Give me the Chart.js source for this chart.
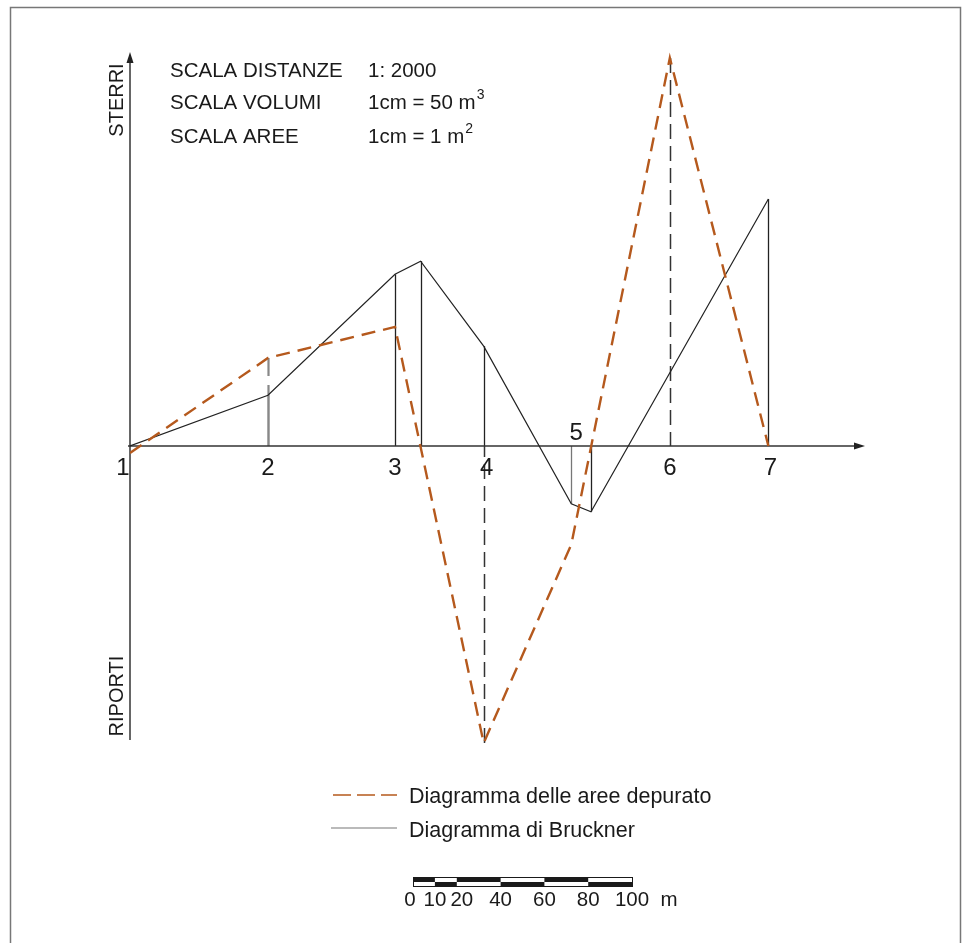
<!DOCTYPE html>
<html>
<head>
<meta charset="utf-8">
<script src="https://cdn.jsdelivr.net/npm/chart.js@4/dist/chart.umd.min.js"></script>
<style>
  html, body { margin: 0; background: #fff; }
  #wrap { width: 967px; height: 943px; position: relative; }
</style>
</head>
<body>
<div id="wrap"><canvas id="chart"></canvas></div>
<script>
// Distances in m (read against the 100 m scale bar), volumes in m3, areas in m2
const stationLabels = ['1', '2', '3', '4', '5', '6', '7'];
const stationDist = [0, 63, 121, 161.5, 201.5, 246.5, 291.5];

const areaDist = [0, 63, 121, 161.5, 201.5, 246.5, 291.5];
const areaValues = [-0.16, 2.01, 2.72, -6.78, -2.25, 8.86, 0];

const brucknerDist = [0, 63, 121, 132.7, 161.5, 201.5, 210.5, 291.5];
const brucknerValues = [0, 58, 196, 211, 114, -66, -75, 282];

// ordinates of the area diagram drawn dashed
const dashedOrdinates = [63, 161.5, 246.5];

const scaleBarTicks = [0, 10, 20, 40, 60, 80, 100];
const headerRows = [
  ['SCALA DISTANZE', '1: 2000', ''],
  ['SCALA VOLUMI', '1cm = 50 m', '3'],
  ['SCALA AREE', '1cm = 1 m', '2']
];

// drawing scales: 1:2000 -> 1 cm = 20 m, 1 cm = 50 m3, 1 cm = 1 m2
const cmPx = 43.8;
const FONT = '"Liberation Sans", Arial, Helvetica, sans-serif';
const ORANGE = '#b5591d';

const pad = { left: 130, right: 102, top: 40, bottom: 183 };
const areaW = 967 - pad.left - pad.right;
const areaH = 943 - pad.top - pad.bottom;
const zeroFromTop = 406; // zero line sits 406 px under the top of the plot area

function areaAt(d) {
  return areaValues[areaDist.indexOf(d)];
}

const drawing = {
  id: 'drawing',
  beforeDatasetsDraw(chart) {
    const ctx = chart.ctx;
    const xs = chart.scales.x, ys = chart.scales.y, ya = chart.scales.y2;
    const x0 = xs.getPixelForValue(0);
    const y0 = ys.getPixelForValue(0);
    ctx.save();

    // frame
    ctx.strokeStyle = '#777';
    ctx.lineWidth = 1.5;
    ctx.strokeRect(10.5, 7.5, 950, 1000);

    // ordinates of the Bruckner diagram
    ctx.lineWidth = 1.3;
    brucknerDist.forEach((d, i) => {
      if (i === 0) return;
      const px = Math.round(xs.getPixelForValue(d)) + 0.5;
      ctx.strokeStyle = (d === 201.5) ? '#777' : '#222';
      ctx.beginPath();
      ctx.moveTo(px, y0);
      ctx.lineTo(px, ys.getPixelForValue(brucknerValues[i]));
      ctx.stroke();
    });

    // dashed ordinates of the area diagram, drawn from the curve toward the axis
    dashedOrdinates.forEach(d => {
      const px = Math.round(xs.getPixelForValue(d)) + 0.5;
      const grey = d === 63;
      ctx.strokeStyle = grey ? '#888' : '#333';
      ctx.lineWidth = grey ? 2.2 : 1.5;
      ctx.setLineDash(grey ? [18, 9, 80, 0] : [15, 7]);
      ctx.beginPath();
      ctx.moveTo(px, ya.getPixelForValue(areaAt(d)));
      ctx.lineTo(px, y0);
      ctx.stroke();
    });
    ctx.setLineDash([]);

    // axes with arrows
    ctx.strokeStyle = '#333';
    ctx.fillStyle = '#222';
    ctx.lineWidth = 1.5;
    const xEnd = chart.chartArea.right;
    ctx.beginPath();
    ctx.moveTo(x0 - 2, y0);
    ctx.lineTo(xEnd - 8, y0);
    ctx.stroke();
    ctx.beginPath();
    ctx.moveTo(xEnd, y0);
    ctx.lineTo(xEnd - 11, y0 - 3.5);
    ctx.lineTo(xEnd - 11, y0 + 3.5);
    ctx.closePath();
    ctx.fill();

    const yTop = 52, yBot = 740;
    ctx.beginPath();
    ctx.moveTo(x0, yBot);
    ctx.lineTo(x0, yTop + 8);
    ctx.stroke();
    ctx.beginPath();
    ctx.moveTo(x0, yTop);
    ctx.lineTo(x0 - 3.5, yTop + 11);
    ctx.lineTo(x0 + 3.5, yTop + 11);
    ctx.closePath();
    ctx.fill();
    ctx.restore();
  },
  afterDatasetsDraw(chart) {
    const ctx = chart.ctx;
    const xs = chart.scales.x, ys = chart.scales.y;
    const x0 = xs.getPixelForValue(0);
    const y0 = ys.getPixelForValue(0);
    ctx.save();
    ctx.fillStyle = '#1a1a1a';

    // station numbers
    ctx.font = '24px ' + FONT;
    ctx.textAlign = 'center';
    ctx.textBaseline = 'middle';
    stationLabels.forEach((lab, i) => {
      let px = xs.getPixelForValue(stationDist[i]);
      let py = y0 + 22;
      if (lab === '1') px -= 7;
      if (lab === '5') { px += 5; py = y0 - 13; }
      if (lab === '4') px += 3;
      if (lab === '7') px += 2;
      ctx.fillText(lab, px, py);
    });

    // side labels
    ctx.font = '20px ' + FONT;
    [['STERRI', 100], ['RIPORTI', 696]].forEach(([t, cy]) => {
      ctx.save();
      ctx.translate(x0 - 13, cy);
      ctx.rotate(-Math.PI / 2);
      ctx.fillText(t, 0, 0);
      ctx.restore();
    });

    // header
    ctx.textAlign = 'left';
    [71, 103.5, 137].forEach((cy, i) => {
      const row = headerRows[i];
      ctx.font = '20.5px ' + FONT;
      ctx.fillText(row[0], 170, cy);
      ctx.fillText(row[1], 368, cy);
      if (row[2]) {
        const w = ctx.measureText(row[1]).width;
        ctx.font = '14px ' + FONT;
        ctx.fillText(row[2], 368 + w + 1, cy - 8);
      }
    });

    // legend
    ctx.font = '21.5px ' + FONT;
    ctx.fillText('Diagramma delle aree depurato', 409, 797);
    ctx.fillText('Diagramma di Bruckner', 409, 831);
    ctx.strokeStyle = ORANGE;
    ctx.lineWidth = 1.6;
    ctx.setLineDash([18, 6]);
    ctx.beginPath();
    ctx.moveTo(333, 795);
    ctx.lineTo(397, 795);
    ctx.stroke();
    ctx.setLineDash([]);
    ctx.strokeStyle = '#777';
    ctx.lineWidth = 1.2;
    ctx.beginPath();
    ctx.moveTo(331, 828);
    ctx.lineTo(397, 828);
    ctx.stroke();

    // graphic scale bar, 100 m long at the drawing scale
    const pxPerM = (xs.getPixelForValue(100) - xs.getPixelForValue(0)) / 100;
    const bx = 413, by = 877;
    ctx.fillStyle = '#1a1a1a';
    for (let i = 0; i < scaleBarTicks.length - 1; i++) {
      const a = bx + scaleBarTicks[i] * pxPerM;
      const b = bx + scaleBarTicks[i + 1] * pxPerM;
      if (i % 2 === 0) ctx.fillRect(a, by, b - a, 5);
      else ctx.fillRect(a, by + 5, b - a, 4.5);
    }
    ctx.strokeStyle = '#1a1a1a';
    ctx.lineWidth = 1;
    ctx.strokeRect(bx + 0.5, by + 0.5, 100 * pxPerM, 9);
    ctx.font = '20.5px ' + FONT;
    ctx.textAlign = 'center';
    scaleBarTicks.forEach(t => {
      ctx.fillText(String(t), bx + t * pxPerM + (t === 20 ? 5 : 0) - (t === 0 ? 3 : 0), by + 23);
    });
    ctx.fillText('m', bx + 100 * pxPerM + 37, by + 23);
    ctx.restore();
  }
};

new Chart(document.getElementById('chart'), {
  type: 'line',
  data: {
    datasets: [
      {
        label: 'Diagramma delle aree depurato',
        data: areaDist.map((d, i) => ({ x: d, y: areaValues[i] })),
        yAxisID: 'y2',
        borderColor: ORANGE,
        borderWidth: 2.4,
        borderDash: [14, 8],
        pointRadius: 0,
        tension: 0,
        fill: false
      },
      {
        label: 'Diagramma di Bruckner',
        data: brucknerDist.map((d, i) => ({ x: d, y: brucknerValues[i] })),
        yAxisID: 'y',
        borderColor: '#222',
        borderWidth: 1.2,
        pointRadius: 0,
        tension: 0,
        fill: false
      }
    ]
  },
  options: {
    responsive: true,
    maintainAspectRatio: false,
    animation: false,
    layout: { padding: pad },
    plugins: { legend: { display: false }, tooltip: { enabled: false } },
    scales: {
      x: { type: 'linear', display: false, min: 0, max: areaW / cmPx * 20 },
      y: {
        display: false,
        min: -(areaH - zeroFromTop) / cmPx * 50,
        max: zeroFromTop / cmPx * 50
      },
      y2: {
        display: false,
        min: -(areaH - zeroFromTop) / cmPx,
        max: zeroFromTop / cmPx
      }
    }
  },
  plugins: [drawing]
});
</script>
</body>
</html>
